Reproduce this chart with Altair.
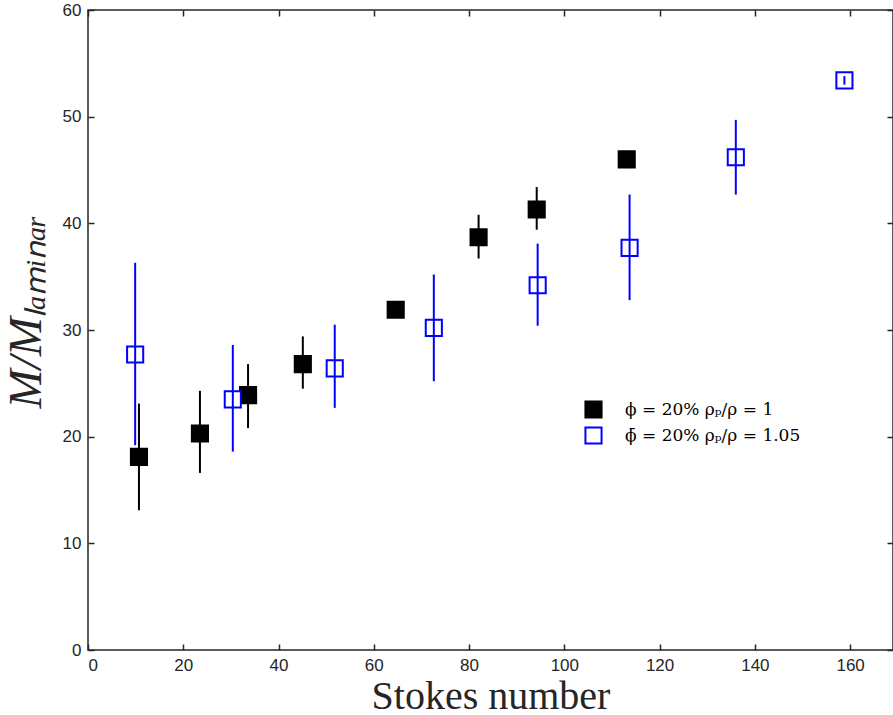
import altair as alt
import pandas as pd

# Data
black_x = [10.7, 23.5, 33.6, 45.1, 64.6, 82.0, 94.2, 113.1]
black_y = [18.1, 20.3, 23.9, 26.8, 31.9, 38.7, 41.3, 46.0]
black_lo = [13.1, 16.6, 20.8, 24.5, 31.6, 36.7, 39.4, 45.8]
black_hi = [23.1, 24.3, 26.8, 29.4, 32.2, 40.8, 43.4, 46.2]

blue_x = [9.9, 30.4, 51.8, 72.6, 94.4, 113.7, 136.0, 158.8]
blue_y = [27.7, 23.5, 26.4, 30.2, 34.2, 37.7, 46.2, 53.4]
blue_lo = [19.2, 18.6, 22.7, 25.2, 30.4, 32.8, 42.7, 53.0]
blue_hi = [36.3, 28.6, 30.5, 35.2, 38.1, 42.7, 49.7, 53.8]

series_names = ["ϕ = 20%  ρₚ/ρ = 1", "ϕ̄ = 20%  ρₚ/ρ = 1.05"]
x_ticks = [0, 20, 40, 60, 80, 100, 120, 140, 160]
y_ticks = [0, 10, 20, 30, 40, 50, 60]

rows = []
for xs, ys, lo, hi, name in [
    (black_x, black_y, black_lo, black_hi, series_names[0]),
    (blue_x, blue_y, blue_lo, blue_hi, series_names[1]),
]:
    for a, b, c, d in zip(xs, ys, lo, hi):
        rows.append({"x": a, "y": b, "lo": c, "hi": d, "series": name})
df = pd.DataFrame(rows)

TICKFONT = "Liberation Sans"
SERIF = "Liberation Serif"

xscale = alt.Scale(domain=[0, 169], nice=False, zero=False)
yscale = alt.Scale(domain=[0, 60], nice=False)

common_axis = dict(
    domain=False, grid=False, ticks=True, tickSize=6, offset=-6,
    tickColor="#262626", tickWidth=1.5,
)

x_axis = alt.Axis(values=x_ticks, labelPadding=7, title="Stokes number",
                  labelFont=TICKFONT, labelFontSize=17, labelColor="#262626",
                  titleFont=SERIF, titleFontSize=40, titleFontWeight="normal",
                  titleColor="#262626", titlePadding=3, **common_axis)
y_axis = alt.Axis(values=y_ticks, labelPadding=7, title="M/Mₗₐₘᵢₙₐᵣ",
                  labelFont=TICKFONT, labelFontSize=17, labelColor="#262626",
                  titleFont=SERIF, titleFontSize=47, titleFontWeight="normal",
                  titleFontStyle="italic", titleColor="#262626",
                  titleX=-44, titleY=301, **common_axis)

color_scale = alt.Scale(domain=series_names, range=["#000000", "#0000ff"])
fill_scale = alt.Scale(domain=series_names, range=["#000000", "#ffffff"])

leg = alt.Legend(orient="none", legendX=496, legendY=390, title=None,
                 labelFont="DejaVu Serif", labelFontSize=17, labelColor="#000000",
                 labelLimit=400,
                 symbolSize=260, symbolStrokeWidth=2, symbolType="square",
                 rowPadding=1, labelOffset=22)

points = alt.Chart(df).mark_point(shape="square", size=260, strokeWidth=2, opacity=1, filled=False).encode(
    x=alt.X("x:Q", scale=xscale, axis=x_axis),
    y=alt.Y("y:Q", scale=yscale, axis=y_axis),
    stroke=alt.Stroke("series:N", scale=color_scale, legend=leg),
    fill=alt.Fill("series:N", scale=fill_scale, legend=leg),
)

rules = alt.Chart(df).mark_rule(strokeWidth=2).encode(
    x=alt.X("x:Q", scale=xscale, axis=None),
    y=alt.Y("lo:Q", scale=yscale, axis=None),
    y2="hi:Q",
    stroke=alt.Stroke("series:N", scale=color_scale, legend=leg),
)

top_axis = alt.Chart(df).mark_point(opacity=0).encode(
    x=alt.X("x:Q", scale=xscale, axis=alt.Axis(orient="top", values=x_ticks, labels=False, title=None, **common_axis)),
    y=alt.Y("y:Q", scale=yscale, axis=alt.Axis(orient="right", values=y_ticks, labels=False, title=None, **common_axis)),
)

chart = alt.layer(points, rules, top_axis).resolve_axis(x="independent", y="independent").properties(
    width=805, height=640,
    autosize=alt.AutoSizeParams(type="none"),
    padding={"left": 88, "top": 10, "right": 0, "bottom": 65},
    background="white",
).configure_view(stroke="#262626", strokeWidth=1.5)

chart.save("out.html", embed_options={"renderer": "svg", "actions": False})
